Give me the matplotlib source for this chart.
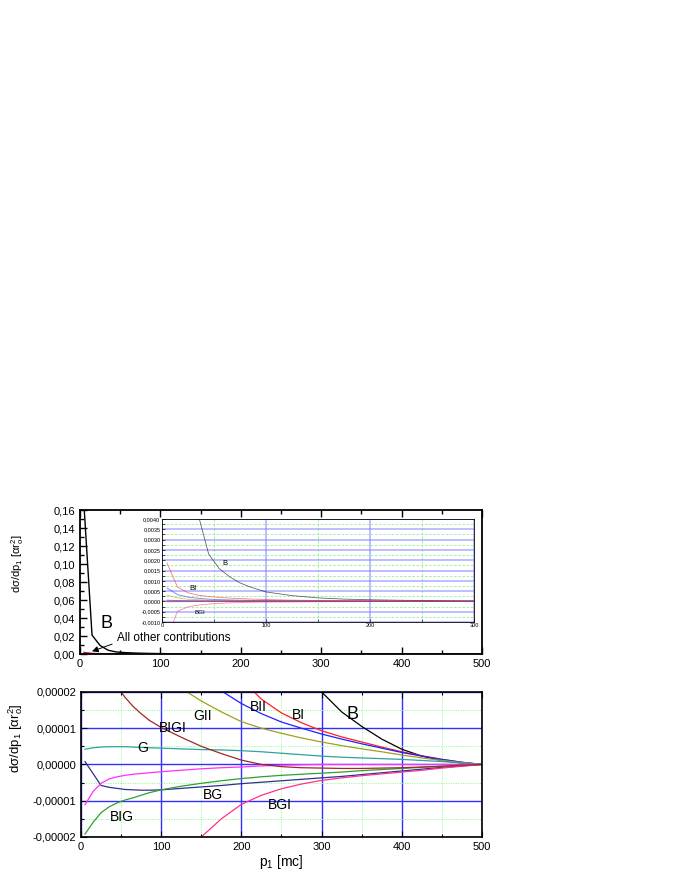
import numpy as np
import matplotlib
matplotlib.use('Agg')
import matplotlib.pyplot as plt
from matplotlib.ticker import MultipleLocator, FuncFormatter

plt.rcParams['font.family'] = ['Liberation Sans', 'DejaVu Sans']
plt.rcParams['mathtext.fontset'] = 'custom'
plt.rcParams['mathtext.rm'] = 'Liberation Sans'
plt.rcParams['mathtext.it'] = 'Liberation Sans:italic'

# momentum p1 [mc]
p = [5, 15, 25, 35, 45, 55, 65, 75, 85, 100, 125, 150, 175, 200, 225,
     250, 275, 300, 325, 350, 375, 400, 425, 450, 475, 500]

# cross section contributions in units of 1e-5
UNIT = 1e-5
B = [16500, 2100, 950, 420, 230, 160, 120, 90, 70, 46, 28, 17, 11, 8, 5.8,
     4.2, 3.0, 2.0, 1.45, 1.05, 0.7, 0.42, 0.23, 0.11, 0.04, 0]
BI = [186, 70, 42, 30, 24, 19, 16, 13.5, 11.5, 9, 6, 4.2, 3.1, 2.35, 1.8,
      1.42, 1.15, 0.93, 0.76, 0.62, 0.48, 0.35, 0.24, 0.14, 0.06, 0]
BII = [65, 33, 21, 15, 11, 8.5, 7, 5.8, 4.9, 4, 3.0, 2.4, 2.03, 1.68, 1.4,
       1.17, 1.0, 0.84, 0.7, 0.57, 0.45, 0.33, 0.23, 0.14, 0.06, 0]
GII = [30, 17, 11, 8, 6.2, 5.0, 4.2, 3.6, 3.1, 2.6, 2.1, 1.75, 1.45, 1.18, 1.0,
       0.86, 0.73, 0.62, 0.52, 0.43, 0.35, 0.26, 0.18, 0.11, 0.05, 0]
BIGI = [6, 4.2, 3.2, 2.6, 2.15, 1.85, 1.6, 1.4, 1.22, 1.02, 0.75, 0.5, 0.3, 0.12, 0.0,
        -0.06, -0.09, -0.1, -0.11, -0.11, -0.1, -0.09, -0.07, -0.05, -0.02, 0]
G = [0.42, 0.46, 0.48, 0.49, 0.49, 0.49, 0.48, 0.47, 0.46, 0.45, 0.43, 0.41, 0.4, 0.38, 0.35,
     0.31, 0.27, 0.23, 0.2, 0.18, 0.16, 0.14, 0.11, 0.08, 0.04, 0]
BG = [0.08, -0.25, -0.58, -0.63, -0.66, -0.69, -0.7, -0.71, -0.71, -0.7, -0.66, -0.62, -0.58, -0.53, -0.49,
      -0.45, -0.41, -0.37, -0.33, -0.28, -0.23, -0.18, -0.13, -0.08, -0.04, 0]
BIG = [-1.92, -1.6, -1.33, -1.17, -1.06, -0.98, -0.92, -0.85, -0.78, -0.7, -0.6, -0.52, -0.45, -0.39, -0.34,
       -0.3, -0.27, -0.24, -0.21, -0.17, -0.14, -0.11, -0.08, -0.05, -0.02, 0]
BGI = [-180, -48, -27, -18, -13, -9.5, -7, -5.5, -4.3, -3.4, -2.6, -2.0, -1.5, -1.1, -0.85,
       -0.67, -0.54, -0.44, -0.37, -0.31, -0.26, -0.21, -0.16, -0.1, -0.05, 0]
# magenta curve without a label
OTHER = [-1.11, -0.75, -0.52, -0.4, -0.34, -0.3, -0.27, -0.25, -0.23, -0.2, -0.16, -0.12, -0.09, -0.07, -0.04,
         -0.02, -0.01, 0, 0, 0, 0, 0, 0, 0, 0, 0]

series = [
    (B, 'black'), (BI, '#ff2020'), (BII, '#2020ff'), (GII, '#a0a020'),
    (G, '#30a0a0'), (BG, '#303090'), (BIG, '#30a030'), (BGI, '#ff3090'),
    (OTHER, '#ff30ff'), (BIGI, '#a02828'),
]

# (text, x, y in 1e-5, size) labels in the lower panel
low_labels = [('B', 339, 1.37, 13), ('BI', 271, 1.37, 10), ('BII', 221, 1.59, 10),
              ('GII', 152, 1.34, 10), ('BIGI', 115, 1.0, 10), ('G', 77, 0.46, 10),
              ('BG', 165, -0.84, 10), ('BIG', 51, -1.45, 10), ('BGI', 248, -1.12, 10)]

p = np.array(p)


def comma(fmt):
    return FuncFormatter(lambda v, pos: fmt.format(v).replace('.', ','))


ylab = 'dσ/dp$_1$ [αr$_{\\rm o}^{2}$]'

fig = plt.figure(figsize=(6.8, 8.8), dpi=100)

# ---- upper panel
ax1 = fig.add_axes([0.1176, 0.2568, 0.5912, 0.1636])
for vals, col in series:
    ax1.plot(p, np.array(vals) * UNIT, color=col, lw=1)
ax1.set_xlim(0, 500)
ax1.set_ylim(0, 0.16)
ax1.xaxis.set_major_locator(MultipleLocator(100))
ax1.xaxis.set_minor_locator(MultipleLocator(50))
ax1.yaxis.set_major_locator(MultipleLocator(0.02))
ax1.yaxis.set_minor_locator(MultipleLocator(0.01))
ax1.yaxis.set_major_formatter(comma('{:.2f}'))
ax1.tick_params(which='both', direction='in', top=True, labelsize=8)
ax1.tick_params(which='major', length=5, width=1)
ax1.tick_params(which='minor', length=3, width=1)
for s in ax1.spines.values():
    s.set_linewidth(1.3)
ax1.set_ylabel(ylab, fontsize=8)
ax1.yaxis.set_label_coords(-0.135, 0.63)
ax1.text(33.6, 0.0344, 'B', fontsize=13, ha='center', va='center')
ax1.text(46, 0.018, 'All other contributions', fontsize=8.5, va='center')
ax1.annotate('', xy=(15, 0.003), xytext=(40, 0.011),
             arrowprops=dict(arrowstyle='-|>', color='black', lw=0.7,
                             mutation_scale=9, shrinkA=0, shrinkB=0))

# ---- inset
ax2 = fig.add_axes([0.238, 0.2932, 0.459, 0.117])
for vals, col in series:
    ax2.plot(p, np.array(vals) * UNIT, color=col, lw=0.6, alpha=0.6)
ax2.set_xlim(0, 300)
ax2.set_ylim(-0.0010, 0.0040)
ax2.xaxis.set_major_locator(MultipleLocator(100))
ax2.xaxis.set_minor_locator(MultipleLocator(50))
ax2.yaxis.set_major_locator(MultipleLocator(0.0005))
ax2.yaxis.set_minor_locator(MultipleLocator(0.00025))
ax2.yaxis.set_major_formatter(comma('{:.4f}'))
ax2.grid(which='major', color='#8080ff', lw=1.3, alpha=0.55)
ax2.grid(which='minor', color='#90f090', lw=0.6, ls=(0, (3, 2)))
ax2.set_axisbelow(True)
ax2.tick_params(which='both', direction='in', labelsize=4, length=2, width=0.5, pad=1)
for s in ax2.spines.values():
    s.set_linewidth(0.6)
ax2.text(58, 0.00182, 'B', fontsize=5.5, va='center')
ax2.text(26, 0.00065, 'BI', fontsize=5.5, va='center')
ax2.text(31, -0.00052, 'BGI', fontsize=4.5, va='center')

# ---- lower panel
ax3 = fig.add_axes([0.1191, 0.0489, 0.5897, 0.1648])
for vals, col in series:
    ax3.plot(p, np.array(vals) * UNIT, color=col, lw=0.9)
ax3.set_xlim(0, 500)
ax3.set_ylim(-2e-5, 2e-5)
ax3.xaxis.set_major_locator(MultipleLocator(100))
ax3.xaxis.set_minor_locator(MultipleLocator(50))
ax3.yaxis.set_major_locator(MultipleLocator(1e-5))
ax3.yaxis.set_minor_locator(MultipleLocator(0.5e-5))
ax3.yaxis.set_major_formatter(comma('{:.5f}'))
ax3.grid(which='major', color='#3030ff', lw=1.0)
ax3.grid(which='minor', color='#80ff80', lw=0.7, ls=(0, (1, 1.5)))
ax3.set_axisbelow(True)
ax3.tick_params(which='both', direction='in', top=True, labelsize=8, width=0.8)
ax3.tick_params(which='major', length=4)
ax3.tick_params(which='minor', length=2.5)
for s in ax3.spines.values():
    s.set_linewidth(1.2)
for txt, x, y, fs in low_labels:
    ax3.text(x, y * UNIT, txt, fontsize=fs, ha='center', va='center')
ax3.set_ylabel(ylab, fontsize=9.5)
ax3.yaxis.set_label_coords(-0.14, 0.68)
ax3.set_xlabel('p$_1$ [mc]', fontsize=10, labelpad=1)

plt.savefig('out.png', dpi=100)
